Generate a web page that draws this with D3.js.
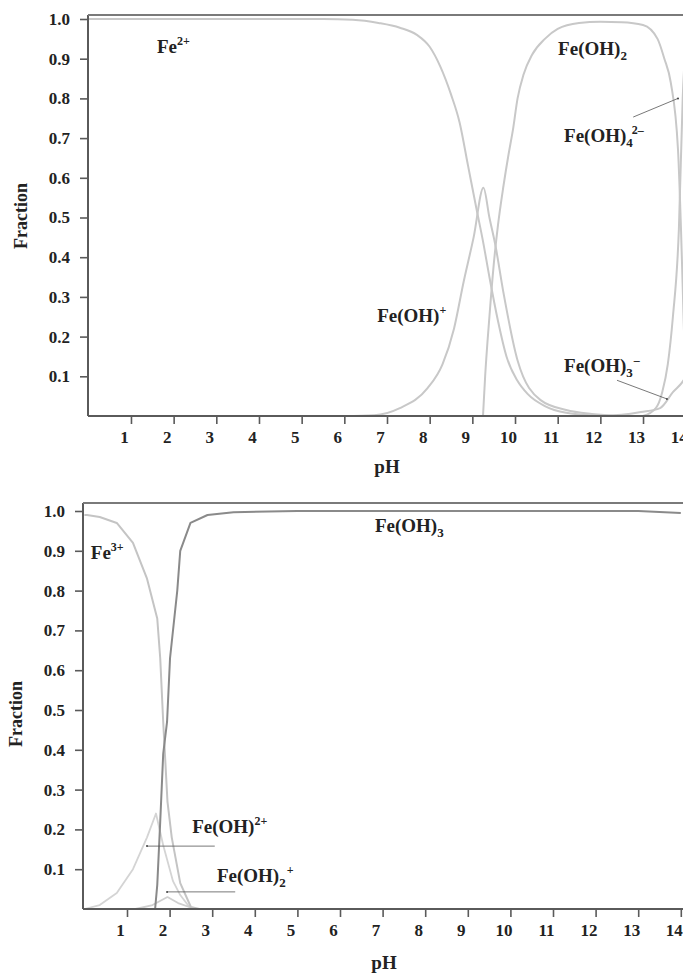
<!DOCTYPE html>
<html>
<head>
<meta charset="utf-8">
<script src="https://cdn.jsdelivr.net/npm/d3@7"></script>
<style>
  body { margin: 0; background: #fff; }
  text { font-family: 'Liberation Serif', 'Times New Roman', serif; font-weight: bold; fill: #222; }
</style>
</head>
<body>
<script>
// ---- Fe(II) panel data (pH, fraction) ----
const fe2Ph   = [0, 5.5, 6.2, 6.8, 7.3, 7.7, 8.0, 8.25, 8.5, 8.7, 8.9, 9.1, 9.25, 9.4, 9.6, 9.8, 10.05, 10.3, 10.7, 11.2, 12];
const fe2Val  = [1, 1, 0.998, 0.99, 0.978, 0.96, 0.93, 0.88, 0.81, 0.74, 0.63, 0.52, 0.44, 0.35, 0.24, 0.15, 0.09, 0.055, 0.025, 0.008, 0];

const feOHPh  = [6, 6.7, 7.3, 7.95, 8.3, 8.57, 8.8, 9.03, 9.26, 9.4, 9.54, 9.73, 10.06, 10.6, 11.2, 11.8, 12.5];
const feOHVal = [0, 0.002, 0.02, 0.07, 0.13, 0.22, 0.34, 0.45, 0.575, 0.5, 0.43, 0.31, 0.14, 0.04, 0.015, 0.005, 0];

const feOH2Ph  = [9.25, 9.3, 9.4, 9.5, 9.6, 9.73, 9.85, 9.95, 10.06, 10.2, 10.4, 10.7, 11.0, 11.5, 12, 12.5, 13.0, 13.34, 13.5, 13.65, 13.82, 13.89, 13.95, 14.02];
const feOH2Val = [0, 0.1, 0.25, 0.38, 0.48, 0.58, 0.66, 0.72, 0.8, 0.86, 0.91, 0.95, 0.975, 0.99, 0.993, 0.992, 0.985, 0.95, 0.9, 0.84, 0.67, 0.47, 0.25, 0];

const feOH4Ph  = [13.0, 13.3, 13.45, 13.58, 13.7, 13.84, 13.93, 14.05];
const feOH4Val = [0, 0.02, 0.06, 0.13, 0.25, 0.47, 0.8, 1.0];

const feOH3mPh  = [12.0, 12.5, 12.95, 13.4, 13.7, 13.95, 14.05];
const feOH3mVal = [0, 0.003, 0.01, 0.02, 0.06, 0.09, 0.11];

// ---- Fe(III) panel data ----
const fe3Ph   = [0, 0.06, 0.36, 0.76, 1.14, 1.47, 1.71, 1.78, 1.85, 1.95, 2.05, 2.25, 2.5, 2.7];
const fe3Val  = [0.99, 0.99, 0.985, 0.97, 0.92, 0.83, 0.73, 0.63, 0.47, 0.27, 0.18, 0.065, 0.005, 0];

const feOHIIIPh  = [0, 0.36, 0.76, 1.14, 1.47, 1.68, 1.85, 2.08, 2.25, 2.5];
const feOHIIIVal = [0, 0.01, 0.04, 0.1, 0.18, 0.24, 0.16, 0.07, 0.035, 0];

const feOH2IIIPh  = [1.2, 1.6, 1.95, 2.2, 2.6];
const feOH2IIIVal = [0, 0.01, 0.03, 0.015, 0];

const feOH3Ph  = [0, 1.66, 1.71, 1.78, 1.85, 1.94, 2.01, 2.18, 2.25, 2.49, 2.89, 3.5, 5, 13, 14];
const feOH3Val = [0, 0, 0.06, 0.22, 0.39, 0.47, 0.63, 0.8, 0.9, 0.97, 0.99, 0.997, 1, 1, 0.995];

const xTicks = d3.range(1, 15);
const yTicks = d3.range(1, 11).map(d => d / 10);

const zip = (xs, ys) => xs.map((x, i) => [x, ys[i]]);

const svg = d3.select('body').append('svg')
    .attr('width', 683)
    .attr('height', 974);

function drawPanel(p) {
    const x = d3.scaleLinear().domain([0, 14]).range(p.xRange);
    const y = d3.scaleLinear().domain([0, 1]).range(p.yRange);
    const g = svg.append('g');

    // curves
    const line = d3.line().x(d => x(d[0])).y(d => y(d[1])).curve(p.curve);
    p.series.forEach(s => {
        g.append('path')
            .attr('d', line(zip(s.ph, s.val)))
            .attr('fill', 'none')
            .attr('stroke', s.color)
            .attr('stroke-width', s.width || 2)
            .attr('stroke-linejoin', 'round');
    });

    // frame: left axis, bottom axis, top line
    const axisColor = '#5a5a5a';
    g.append('line').attr('x1', p.axisX).attr('x2', p.axisX)
        .attr('y1', p.frameTop).attr('y2', y(0))
        .attr('stroke', axisColor).attr('stroke-width', 2);
    g.append('line').attr('x1', p.axisX).attr('x2', 683)
        .attr('y1', y(0)).attr('y2', y(0))
        .attr('stroke', axisColor).attr('stroke-width', 2);
    g.append('line').attr('x1', p.axisX).attr('x2', 683)
        .attr('y1', p.frameTop).attr('y2', p.frameTop)
        .attr('stroke', '#7a7a7a').attr('stroke-width', 2);

    const yAxis = g.append('g')
        .attr('transform', 'translate(' + p.axisX + ',0)')
        .call(d3.axisLeft(y).tickValues(yTicks).tickSize(8).tickPadding(10)
            .tickFormat(d3.format('.1f')).tickSizeOuter(0));
    const xAxis = g.append('g')
        .attr('transform', 'translate(0,' + y(0) + ')')
        .call(d3.axisBottom(x).tickValues(xTicks).tickSize(8).tickPadding(7).tickSizeOuter(0));

    [yAxis, xAxis].forEach(a => {
        a.select('.domain').remove();
        a.selectAll('.tick line').attr('stroke', axisColor).attr('stroke-width', 1.6);
        a.selectAll('.tick text')
            .style('font-family', "'Liberation Serif', 'Times New Roman', serif")
            .style('font-weight', 'bold')
            .style('font-size', '17px')
            .attr('fill', '#222');
    });
    xAxis.selectAll('.tick text').attr('x', -7);

    // axis titles
    g.append('text')
        .attr('transform', 'translate(' + p.yTitle[0] + ',' + p.yTitle[1] + ')rotate(-90)')
        .attr('text-anchor', 'middle')
        .style('font-size', '18px')
        .text('Fraction');
    g.append('text')
        .attr('x', p.xTitle[0]).attr('y', p.xTitle[1])
        .attr('text-anchor', 'middle')
        .style('font-size', '19px')
        .text('pH');

    // pointer lines
    p.arrows.forEach(a => {
        g.append('line')
            .attr('x1', x(a[0])).attr('y1', y(a[1]))
            .attr('x2', x(a[2])).attr('y2', y(a[3]))
            .attr('stroke', '#555').attr('stroke-width', 0.8);
        g.append('circle')
            .attr('cx', x(a[2])).attr('cy', y(a[3])).attr('r', 1)
            .attr('fill', '#444');
    });

    // species labels
    p.labels.forEach(l => {
        const t = g.append('text')
            .attr('x', x(l.ph)).attr('y', y(l.val))
            .style('font-size', '19px');
        l.parts.forEach(part => {
            const span = t.append('tspan').text(part.t);
            if (part.sub) span.style('font-size', '13px').attr('dy', 5);
            if (part.sup) span.style('font-size', '12px').attr('dy', part.dy || -8);
            if (part.dx) span.attr('dx', part.dx);
        });
    });
}

drawPanel({
    xRange: [88.3, 685.7],
    yRange: [416, 19],
    axisX: 88,
    frameTop: 15,
    curve: d3.curveMonotoneX,
    yTitle: [27, 216],
    xTitle: [387, 473],
    series: [
        { ph: fe2Ph, val: fe2Val, color: '#c8c8c8' },
        { ph: feOHPh, val: feOHVal, color: '#c8c8c8' },
        { ph: feOH2Ph, val: feOH2Val, color: '#c8c8c8' },
        { ph: feOH4Ph, val: feOH4Val, color: '#c8c8c8' },
        { ph: feOH3mPh, val: feOH3mVal, color: '#c8c8c8' }
    ],
    arrows: [
        [12.77, 0.753, 13.82, 0.80],
        [12.39, 0.09, 13.56, 0.043]
    ],
    labels: [
        { ph: 1.61, val: 0.914, parts: [{ t: 'Fe' }, { t: '2+', sup: true }] },
        { ph: 11.01, val: 0.909, parts: [{ t: 'Fe(OH)' }, { t: '2', sub: true }] },
        { ph: 11.15, val: 0.69, parts: [{ t: 'Fe(OH)' }, { t: '4', sub: true }, { t: '2–', sup: true, dy: -13, dx: -1 }] },
        { ph: 6.77, val: 0.237, parts: [{ t: 'Fe(OH)' }, { t: '+', sup: true }] },
        { ph: 11.15, val: 0.111, parts: [{ t: 'Fe(OH)' }, { t: '3', sub: true }, { t: '–', sup: true, dy: -13, dx: 1 }] }
    ]
});

drawPanel({
    xRange: [84.4, 680.8],
    yRange: [909, 511],
    axisX: 83,
    frameTop: 503,
    curve: d3.curveLinear,
    yTitle: [22, 714],
    xTitle: [384, 969],
    series: [
        { ph: feOHIIIPh, val: feOHIIIVal, color: '#d4d4d4', width: 1.8 },
        { ph: feOH2IIIPh, val: feOH2IIIVal, color: '#cfcfcf', width: 1.8 },
        { ph: fe3Ph, val: fe3Val, color: '#c4c4c4' },
        { ph: feOH3Ph, val: feOH3Val, color: '#8a8a8a' }
    ],
    arrows: [
        [3.06, 0.158, 1.47, 0.158],
        [3.54, 0.043, 1.94, 0.043]
    ],
    labels: [
        { ph: 0.15, val: 0.879, parts: [{ t: 'Fe' }, { t: '3+', sup: true }] },
        { ph: 6.82, val: 0.947, parts: [{ t: 'Fe(OH)' }, { t: '3', sub: true }] },
        { ph: 2.53, val: 0.191, parts: [{ t: 'Fe(OH)' }, { t: '2+', sup: true }] },
        { ph: 3.11, val: 0.068, parts: [{ t: 'Fe(OH)' }, { t: '2', sub: true }, { t: '+', sup: true, dy: -13, dx: 1 }] }
    ]
});
</script>
</body>
</html>
